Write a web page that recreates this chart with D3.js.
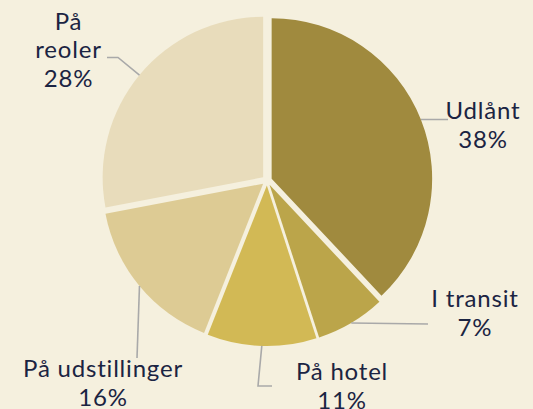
<!DOCTYPE html>
<html>
<head>
<meta charset="utf-8">
<script src="https://cdn.jsdelivr.net/npm/d3@7"></script>
<style>
  html, body { margin: 0; padding: 0; background: #f5f0de; }
  svg { display: block; }
  text { font-family: Lato, "Noto Sans", sans-serif; fill: #1b2442; letter-spacing: 0.8px; }
</style>
</head>
<body>
<svg id="chart" width="533" height="409"></svg>
<script>
// Where the collection's objects are, in percent
const categories = ["Udlånt", "I transit", "På hotel", "På udstillinger", "På reoler"];
const shares = [38, 7, 11, 16, 28];
const sliceColors = ["#a08a3e", "#bba54a", "#d2b955", "#ddcb94", "#e8dcbb"];

// Label text lines (name may wrap) and placement: text anchor (centre, first baseline)
// plus the leader path that follows the slice's rim point
const labelLines = [["Udlånt"], ["I transit"], ["På hotel"], ["På udstillinger"], ["På", "reoler"]];
const labelLayout = [
  { x: 483, y: 119, leader: [[448, 119.5]] },
  { x: 475, y: 307, leader: [[428, 324]] },
  { x: 342, y: 380, leader: [[258, 386], [272, 386]] },
  { x: 103, y: 377, leader: [[137, 358]] },
  { x: 68.5, y: 29.5, leader: [[118, 57.5], [107, 57.5]] }
];

const cx = 267, cy = 180.5, radius = 160.5, explode = 5, lineGap = 28.5;

const svg = d3.select("#chart");
const g = svg.append("g").attr("transform", `translate(${cx},${cy})`);

const data = categories.map((c, i) => ({ name: c, value: shares[i], color: sliceColors[i], i }));

const pie = d3.pie().value(d => d.value).sort(null);
const arcs = pie(data);
const arc = d3.arc().innerRadius(0).outerRadius(radius);

// Each slice is pushed out a little along its bisector
function offsetOf(a, dist) {
  const mid = (a.startAngle + a.endAngle) / 2;
  return [Math.sin(mid) * dist, -Math.cos(mid) * dist];
}

g.selectAll("path.slice")
  .data(arcs)
  .join("path")
  .attr("class", "slice")
  .attr("d", arc)
  .attr("fill", d => d.data.color)
  .attr("transform", d => {
    const [dx, dy] = offsetOf(d, explode);
    return `translate(${dx},${dy})`;
  });

// Leader lines from the middle of each slice's rim to its label
const line = d3.line();
svg.selectAll("path.leader")
  .data(arcs)
  .join("path")
  .attr("class", "leader")
  .attr("fill", "none")
  .attr("stroke", "#a9a9a9")
  .attr("stroke-width", 1.6)
  .attr("d", d => {
    const [ax, ay] = offsetOf(d, radius + explode);
    const pts = [[cx + ax, cy + ay]].concat(labelLayout[d.data.i].leader);
    return line(pts);
  });

// Category names with their percentage underneath
svg.selectAll("text.label")
  .data(arcs)
  .join("text")
  .attr("class", "label")
  .attr("text-anchor", "middle")
  .attr("font-size", 24)
  .attr("x", d => labelLayout[d.data.i].x)
  .attr("y", d => labelLayout[d.data.i].y)
  .each(function(d) {
    const lay = labelLayout[d.data.i];
    const lines = labelLines[d.data.i].concat([d.data.value + "%"]);
    d3.select(this).selectAll("tspan")
      .data(lines)
      .join("tspan")
      .attr("x", lay.x)
      .attr("dy", (t, k) => k === 0 ? 0 : lineGap)
      .text(t => t);
  });
</script>
</body>
</html>
